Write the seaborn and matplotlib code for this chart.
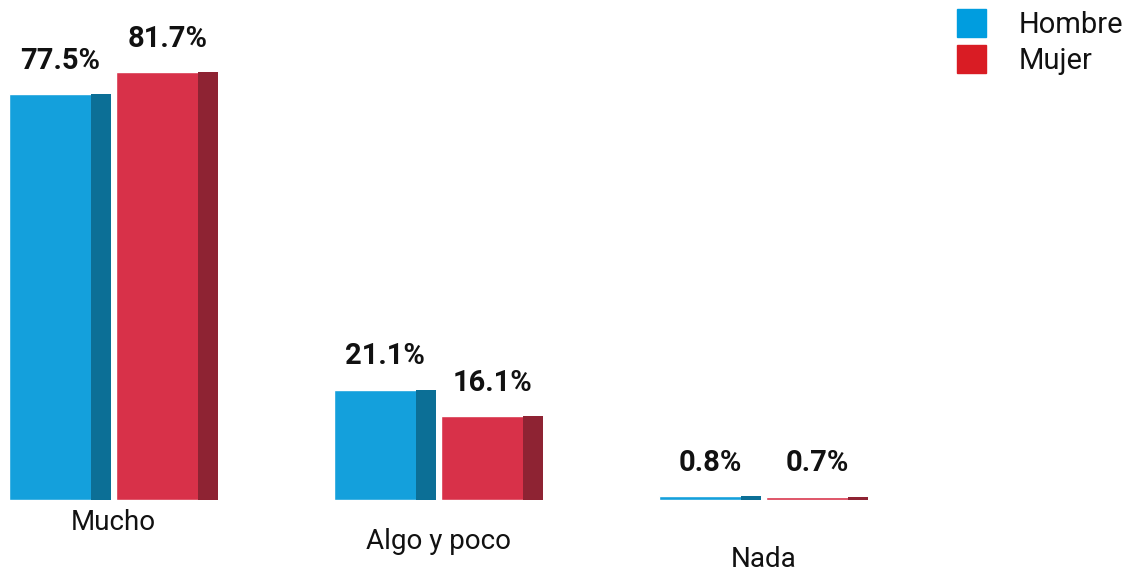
import pandas as pd
import seaborn as sns
import matplotlib.pyplot as plt
from matplotlib.patches import Rectangle, Patch

categories = ['Mucho', 'Algo y poco', 'Nada']
hombre = [77.5, 21.1, 0.8]
mujer = [81.7, 16.1, 0.7]
series = ['Hombre', 'Mujer']

df = pd.DataFrame({
    'cat': categories * 2,
    'pct': hombre + mujer,
    'sexo': [series[0]] * 3 + [series[1]] * 3,
})

front = {'Hombre': '#14a0dc', 'Mujer': '#d83149'}
side = {'Hombre': '#0c6f96', 'Mujer': '#8e2333'}
legend_col = {'Hombre': '#009ddf', 'Mujer': '#d91c24'}

sns.set_style('white')
plt.rcParams['font.family'] = ['Roboto', 'DejaVu Sans']

fig = plt.figure(figsize=(11.29, 5.79), dpi=100)
ax = fig.add_axes([0.0, 0.136, 0.852, 0.814])

sns.barplot(data=df, x='cat', y='pct', hue='sexo', palette=front,
            width=0.66, gap=0.05, legend=False, ax=ax, saturation=1)

# fake 3d: darker right face on each bar + value label
for cont, name in zip(ax.containers, series):
    for bar, v in zip(cont, df.loc[df['sexo'] == name, 'pct']):
        x, w, h = bar.get_x(), bar.get_width(), bar.get_height()
        ax.add_patch(Rectangle((x + w * 0.8, 0), w * 0.2, h,
                               color=side[name], lw=0))
        ax.annotate(f'{v:.1f}%', (x + w / 2, h), xytext=(0, 14),
                    textcoords='offset points', ha='center', va='bottom',
                    fontsize=21, fontweight='bold', color='#111111')

ax.set_xlim(-0.35, 2.61)
ax.set_ylim(0, 90)
ax.set_xlabel('')
ax.set_ylabel('')
ax.set_yticks([])
ax.tick_params(axis='x', length=0, labelsize=20, colors='#111111')
for tick, pad in zip(ax.xaxis.get_major_ticks(), [6, 20, 33]):
    tick.set_pad(pad)
sns.despine(ax=ax, left=True, bottom=True)

handles = [Patch(color=legend_col[s], label=s) for s in series]
fig.legend(handles=handles, loc='upper right', bbox_to_anchor=(1.018, 1.03),
           frameon=False, fontsize=21, handlelength=1.0, handleheight=1.1,
           handletextpad=1.1, labelspacing=0.2, labelcolor='#111111')

plt.savefig('out.png', dpi=100)
